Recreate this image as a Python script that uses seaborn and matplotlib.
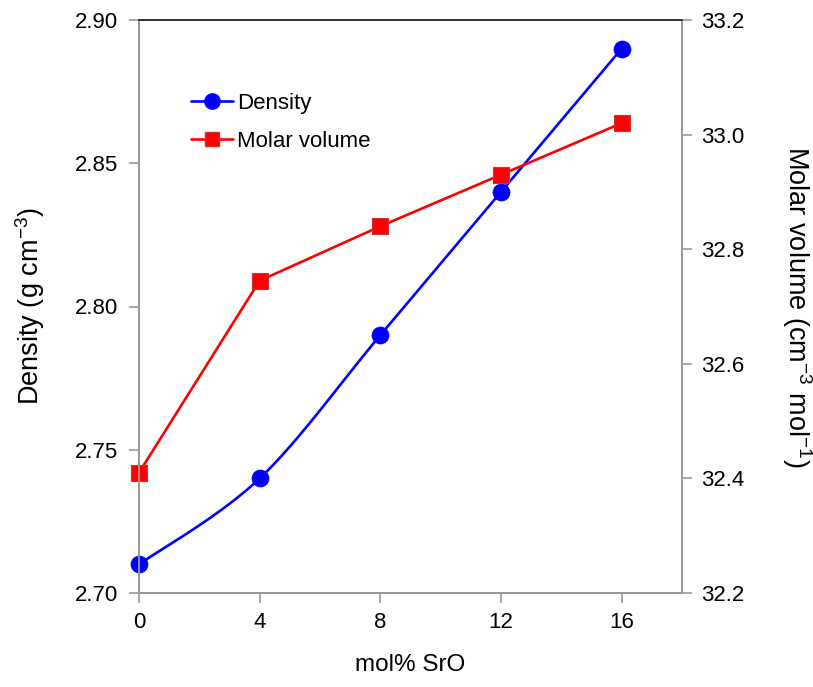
import numpy as np
import pandas as pd
import matplotlib
matplotlib.use("Agg")
import matplotlib.pyplot as plt
from matplotlib.lines import Line2D
import seaborn as sns

mol_sro = [0, 4, 8, 12, 16]
density = [2.71, 2.74, 2.79, 2.84, 2.89]
molar_volume = [32.41, 32.745, 32.84, 32.93, 33.02]
x_ticks = [0, 4, 8, 12, 16]
left_ticks = [2.70, 2.75, 2.80, 2.85, 2.90]
right_ticks = [32.2, 32.4, 32.6, 32.8, 33.0, 33.2]

sns.set_theme(style="ticks")
plt.rcParams['font.family'] = ['Liberation Sans', 'DejaVu Sans']
plt.rcParams['text.color'] = 'black'
plt.rcParams['axes.labelcolor'] = 'black'
plt.rcParams['mathtext.fontset'] = 'custom'
plt.rcParams['mathtext.rm'] = 'Liberation Sans'
plt.rcParams['mathtext.it'] = 'Liberation Sans'
plt.rcParams['mathtext.default'] = 'regular'

fig = plt.figure(figsize=(8.13, 6.87), dpi=100)
ax = fig.add_axes([139/813, 1-593/687, (682-139)/813, (593-20)/687])
ax2 = ax.twinx()

xlim = (0, 18)
ylim = (2.70, 2.90)
y2lim = (32.2, 33.2)
ax.set_xlim(*xlim)
ax.set_ylim(*ylim)
ax2.set_ylim(*y2lim)

# Excel-like smoothed curve (Bezier through data points, computed in pixel space)
W, H = 682-139, 593-20
def smooth(xs, ys, xl, yl, n=40):
    px = (np.asarray(xs, float)-xl[0])/(xl[1]-xl[0])*W
    py = (np.asarray(ys, float)-yl[0])/(yl[1]-yl[0])*H
    P = np.column_stack([px, py])
    out = []
    for i in range(len(P)-1):
        p0 = P[max(i-1, 0)]; p1 = P[i]; p2 = P[i+1]; p3 = P[min(i+2, len(P)-1)]
        c1 = p1 + (p2-p0)/6
        c2 = p2 - (p3-p1)/6
        t = np.linspace(0, 1, n)[:, None]
        seg = (1-t)**3*p1 + 3*(1-t)**2*t*c1 + 3*(1-t)*t**2*c2 + t**3*p2
        out.append(seg if i == 0 else seg[1:])
    S = np.vstack(out)
    return S[:, 0]/W*(xl[1]-xl[0])+xl[0], S[:, 1]/H*(yl[1]-yl[0])+yl[0]

sx, sy = smooth(mol_sro, density, xlim, ylim)
blue = "#0000FF"
red = "#FF0000"
ax.plot(sx, sy, color=blue, lw=1.9, zorder=3)
sns.scatterplot(x=mol_sro, y=density, ax=ax, color=blue, s=150, marker="o",
                edgecolor=blue, linewidth=0.5, zorder=4, legend=False, clip_on=False)

df2 = pd.DataFrame({"x": mol_sro, "mv": molar_volume})
sns.lineplot(data=df2, x="x", y="mv", ax=ax2, color=red, lw=1.9, marker="s",
             markersize=11, markeredgecolor="#D03030", markeredgewidth=0.8,
             markerfacecolor=red, legend=False, clip_on=False)

ax.set_xticks(x_ticks)
ax.set_yticks(left_ticks)
ax.set_yticklabels([f"{v:.2f}" for v in left_ticks])
ax2.set_yticks(right_ticks)
ax2.set_yticklabels([f"{v:.1f}" for v in right_ticks])

fs = 16
ax.tick_params(axis="both", direction="out", length=7, width=1.2, color="#999999",
               labelsize=fs, labelcolor="black")
ax.tick_params(axis="y", pad=8)
ax.tick_params(axis="x", pad=7)
ax2.tick_params(axis="y", direction="out", length=7, width=1.2, color="#999999",
                labelsize=fs, pad=7, labelcolor="black")

for a in (ax, ax2):
    for s in ["left", "right", "bottom"]:
        a.spines[s].set_color("#999999")
        a.spines[s].set_linewidth(1.3)
    a.spines["top"].set_color("#333333")
    a.spines["top"].set_linewidth(1.3)

ax.set_xlabel("mol% SrO", fontsize=17.5, labelpad=15)
ax.set_ylabel("Density (g cm$^{-3}$)", fontsize=19.5, labelpad=20)
ax2.set_ylabel("Molar volume (cm$^{-3}$ mol$^{-1}$)", fontsize=19.5, rotation=270,
               labelpad=50)
ax2.set_xlabel("")

handles = [
    Line2D([0], [0], color=blue, lw=1.9, marker="o", markersize=11,
           markerfacecolor=blue, markeredgecolor=blue),
    Line2D([0], [0], color=red, lw=1.9, marker="s", markersize=10,
           markerfacecolor=red, markeredgecolor="#D03030"),
]
ax.legend(handles, ["Density", "Molar volume"], loc="upper left",
          bbox_to_anchor=(0.079, 0.888), frameon=False, fontsize=16,
          handlelength=1.9, handletextpad=0.2, labelspacing=0.75,
          borderaxespad=0)

fig.savefig("out.png", dpi=100)
